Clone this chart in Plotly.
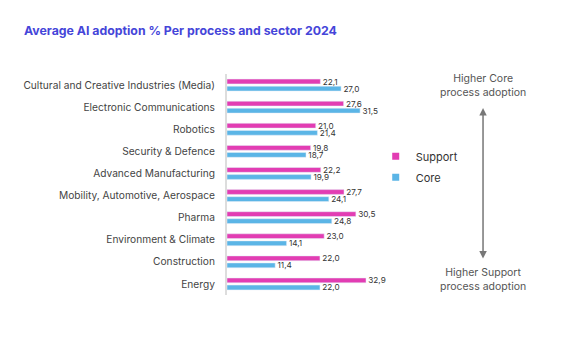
import plotly.graph_objects as go

categories = [
    "Cultural and Creative Industries (Media)",
    "Electronic Communications",
    "Robotics",
    "Security & Defence",
    "Advanced Manufacturing",
    "Mobility, Automotive, Aerospace",
    "Pharma",
    "Environment & Climate",
    "Construction",
    "Energy",
]
support = [22.1, 27.6, 21.0, 19.8, 22.2, 27.7, 30.5, 23.0, 22.0, 32.9]
core = [27.0, 31.5, 21.4, 18.7, 19.9, 24.1, 24.8, 14.1, 11.4, 22.0]

PINK = "#E23DB3"
BLUE = "#5BB5E6"
FONT = "Inter"

def fmt(v):
    return " " + f"{v:.1f}".replace(".", ",")

fig = go.Figure()
for name, vals, col in (("Support", support, PINK), ("Core", core, BLUE)):
    fig.add_trace(go.Bar(
        y=categories, x=vals, name=name, orientation="h",
        marker=dict(color=col), legendgroup=name, showlegend=False,
        text=[fmt(v) for v in vals], textposition="outside",
        constraintext="none",
        textfont=dict(size=8.2, color="#333", family=FONT), cliponaxis=False,
    ))
for name, col in (("Support", PINK), ("Core", BLUE)):
    fig.add_trace(go.Scatter(
        x=[None], y=[None], mode="markers", name=name, legendgroup=name,
        marker=dict(symbol="square", size=7, color=col), showlegend=True,
    ))

fig.update_layout(
    width=585, height=351,
    margin=dict(l=227, r=189, t=74, b=56),
    paper_bgcolor="white", plot_bgcolor="white",
    barmode="group", bargap=0.36, bargroupgap=0.32,
    font=dict(family=FONT, color="#444", size=10),
    title=dict(
        text="<b>Average AI adoption % Per process and sector 2024</b>",
        x=0.041, xanchor="left", y=0.912, yanchor="middle",
        font=dict(size=12.3, color="#4545D9", family=FONT),
    ),
    xaxis=dict(range=[0, 40], visible=False, showgrid=False, zeroline=False),
    yaxis=dict(
        autorange="reversed", showgrid=False, zeroline=False,
        showline=True, linecolor="#DDDDDD", linewidth=2,
        ticks="", ticklabelstandoff=8,
        tickfont=dict(size=10.2, color="#444", family=FONT),
    ),
    showlegend=True,
    legend=dict(
        x=0.88, xanchor="left", y=0.58, yanchor="middle",
        font=dict(size=11, color="#333", family=FONT),
        itemwidth=30, tracegroupgap=2, bgcolor="rgba(0,0,0,0)",
    ),
)

fig.add_annotation(
    xref="paper", yref="paper", x=1.515, y=0.946, xanchor="center", yanchor="middle",
    text="Higher Core<br>process adoption", showarrow=False,
    font=dict(size=10.5, color="#555", family=FONT), align="center",
)
fig.add_annotation(
    xref="paper", yref="paper", x=1.515, y=0.068, xanchor="center", yanchor="middle",
    text="Higher Support<br>process adoption", showarrow=False,
    font=dict(size=10.5, color="#555", family=FONT), align="center",
)
fig.add_annotation(
    xref="paper", yref="paper", x=1.515, y=0.846,
    ax=0, ay=152, text="", showarrow=True,
    arrowhead=2, startarrowhead=2, arrowside="end+start",
    arrowwidth=1.5, arrowcolor="#777", arrowsize=1, startarrowsize=1,
)

fig.write_html("out.html")
